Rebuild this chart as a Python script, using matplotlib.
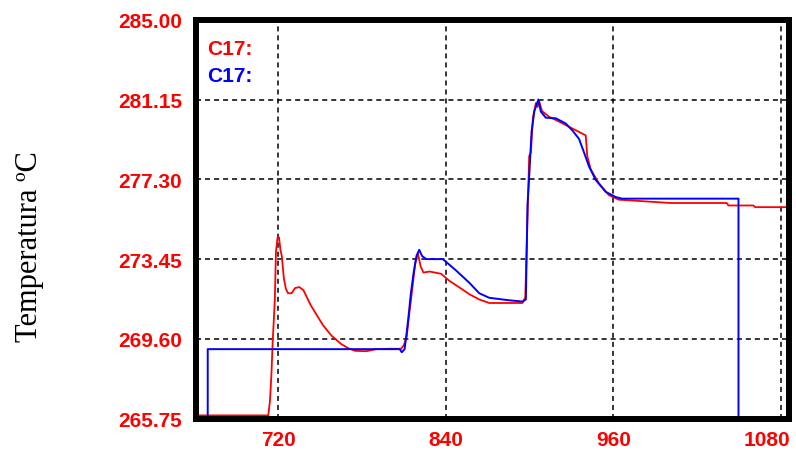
import matplotlib.pyplot as plt
import matplotlib.transforms as mtransforms

# Red trace (C17, measured)
red_t = [661, 712.8, 714, 715, 716, 717.5, 718.3, 719.5, 720.5, 721.5, 722.5, 724,
         725.5, 727, 729.5, 732, 735, 738, 740.5, 743, 747.5, 752, 758, 765, 770,
         775, 783, 790, 800, 808, 810, 812, 814, 816, 818, 820, 822, 824, 828.4,
         836.7, 842.6, 849.8, 857, 864, 871.2, 880, 895, 897, 898, 899.8, 901,
         902.5, 904.6, 905.8, 906.9, 909, 914, 921, 928.4, 937.9, 940.3, 941.4,
         943.9, 949.8, 956.9, 964, 971.2, 1001, 1041.4, 1042.6, 1060.5, 1061.7, 1086]
red_v = [265.9, 265.9, 266.6, 267.8, 269.5, 271.5, 273.8, 274.5, 274.5, 273.9, 273.6, 272.5,
         272.0, 271.8, 271.8, 272.05, 272.1, 271.95, 271.6, 271.25, 270.75, 270.26, 269.76, 269.35, 269.15,
         269.02, 269.0, 269.1, 269.12, 269.12, 269.3, 269.7, 270.9, 272.0, 273.2, 273.73, 273.1, 272.8, 272.85,
         272.74, 272.4, 272.08, 271.75, 271.5, 271.33, 271.33, 271.33, 271.6, 274.0, 278.43, 278.6,
         280.3, 280.99, 280.8, 281.07, 280.6, 280.33, 280.1, 279.84, 279.51, 279.43, 278.43,
         277.78, 277.11, 276.54, 276.32, 276.29, 276.16, 276.16, 276.04, 276.04, 275.96, 275.96]

# Blue trace (C17, simulated)
blue_t = [669.4, 669.4, 807, 808.5, 810.5, 812, 813.5, 815, 817, 819, 821, 823, 826,
          837.9, 847.4, 857, 864, 871.2, 885.5, 895, 897.4, 898.6, 899.8, 901.5, 903.5,
          906.4, 908.1, 911.7, 918.9, 926, 930.7, 935.5, 939.1, 942.6, 947.4, 954.6,
          961.7, 966.4, 1049.8, 1049.8]
blue_v = [265.9, 269.1, 269.1, 268.95, 269.1, 269.9, 270.8, 271.8, 272.8, 273.6, 273.9, 273.6, 273.45,
          273.45, 272.9, 272.3, 271.8, 271.58, 271.46, 271.4, 271.5, 276.1, 277.44, 279.6, 280.6,
          281.16, 280.58, 280.28, 280.25, 280.0, 279.67, 279.26, 278.6, 277.94, 277.28, 276.7,
          276.45, 276.37, 276.37, 265.9]

x_ticks = [720, 840, 960, 1080]
y_ticks = [265.75, 269.60, 273.45, 277.30, 281.15, 285.00]

fig = plt.figure(figsize=(7.96, 4.52), dpi=100)
W, H = 796, 452
ax = fig.add_axes([196 / W, 1 - 419.5 / H, (789 - 196) / W, (419.5 - 21) / H])

ax.plot(red_t, red_v, color='#ff0000', lw=1.3, zorder=3)
ax.plot(blue_t, blue_v, color='#0000ff', lw=1.4, zorder=4)

ax.set_xlim(661, 1086)
ax.set_ylim(265.75, 285.0)
ax.set_xticks(x_ticks)
ax.set_yticks(y_ticks)
ax.set_yticklabels([f"{v:.2f}" for v in y_ticks])

tick_font = dict(family='Liberation Sans', weight='bold', size=15)
for lab in ax.get_xticklabels() + ax.get_yticklabels():
    lab.set_fontproperties(tick_font)
    lab.set_color('#ff0000')
ax.tick_params(axis='both', length=0)
ax.tick_params(axis='y', pad=10)
ax.tick_params(axis='x', pad=8.5)

# keep the last x label inside the canvas
last = ax.get_xticklabels()[-1]
last.set_horizontalalignment('right')
last.set_transform(last.get_transform() + mtransforms.ScaledTranslation(10 / 100, 0, fig.dpi_scale_trans))

ax.grid(True, color='black', linestyle=(0, (3.3, 2.6)), linewidth=1.1)
for sp in ax.spines.values():
    sp.set_linewidth(4.3)
    sp.set_color('black')
    sp.set_zorder(5)

fig.text(207 / W, 1 - 49.5 / H, "C17:", color='#ff0000', va='center', ha='left',
         fontproperties=dict(family='Liberation Sans', weight='bold', size=15))
fig.text(207 / W, 1 - 76 / H, "C17:", color='#0000ff', va='center', ha='left',
         fontproperties=dict(family='Liberation Sans', weight='bold', size=15))

fig.text(30 / W, 1 - 247 / H, "Temperatura \u00baC", rotation=90, va='center', ha='center',
         family='Liberation Serif', size=22)

fig.savefig("out.png", dpi=100)
